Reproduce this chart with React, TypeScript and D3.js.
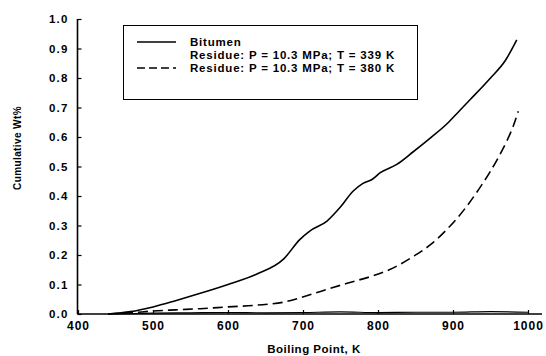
import React, { useEffect, useRef } from 'react';
import * as d3 from 'd3';

// Bitumen (solid)
const bitumenK = [440, 470, 500, 530, 563, 600, 638, 674, 696, 709, 732, 749, 767, 780, 792, 803, 825, 847, 870, 892, 909, 923, 950, 970, 985];
const bitumenWt = [0, 0.008, 0.024, 0.045, 0.07, 0.1, 0.135, 0.186, 0.253, 0.281, 0.315, 0.36, 0.417, 0.443, 0.456, 0.479, 0.507, 0.55, 0.597, 0.645, 0.69, 0.727, 0.8, 0.86, 0.929];

// Residue, T = 339 K (solid, near zero)
const res339K = [450, 500, 550, 600, 650, 700, 750, 800, 850, 900, 950, 1000];
const res339Wt = [0, 0.003, 0.004, 0.005, 0.004, 0.005, 0.007, 0.005, 0.006, 0.006, 0.008, 0.006];

// Residue, T = 380 K (dashed)
const res380K = [440, 470, 500, 530, 563, 600, 638, 674, 705, 740, 770, 794, 815, 847, 870, 892, 918, 935, 949, 962, 972, 980, 987];
const res380Wt = [0, 0.004, 0.01, 0.014, 0.018, 0.024, 0.03, 0.04, 0.062, 0.09, 0.112, 0.13, 0.15, 0.195, 0.235, 0.287, 0.364, 0.425, 0.48, 0.538, 0.588, 0.635, 0.687];

const xTicks = [400, 500, 600, 700, 800, 900, 1000];
const yTicks = [0, 0.1, 0.2, 0.3, 0.4, 0.5, 0.6, 0.7, 0.8, 0.9, 1.0];
const legendLabels = [
  'Bitumen',
  'Residue: P = 10.3 MPa; T = 339 K',
  'Residue: P = 10.3 MPa; T = 380 K',
];

const FONT = '"Liberation Sans", Arial, sans-serif';

const App = () => {
  const svgRef = useRef<SVGSVGElement>(null);

  useEffect(() => {
    const svg = d3.select(svgRef.current);
    svg.selectAll('*').remove();

    const x = d3.scaleLinear().domain([400, 1000]).range([78, 528]);
    const y = d3.scaleLinear().domain([0, 1]).range([314, 19]);

    // axes
    const xAxis = svg.append('g')
      .attr('transform', `translate(0, ${y(0)})`)
      .call(d3.axisBottom(x).tickValues(xTicks).tickSizeInner(-4).tickSizeOuter(0).tickPadding(7).tickFormat(d3.format('d')));
    xAxis.select('.domain').remove();
    xAxis.selectAll('line').attr('stroke', '#000').attr('stroke-width', 1.2);
    xAxis.selectAll('text')
      .attr('font-family', FONT).attr('font-size', 12).attr('font-weight', 'bold')
      .attr('letter-spacing', 1).attr('fill', '#000');

    const yAxis = svg.append('g')
      .attr('transform', `translate(${x(400) - 0.5}, 0)`)
      .call(d3.axisLeft(y).tickValues(yTicks).tickSizeInner(-4).tickSizeOuter(0).tickPadding(9).tickFormat(d3.format('.1f')));
    yAxis.select('.domain').remove();
    yAxis.selectAll('line').attr('stroke', '#000').attr('stroke-width', 1.2);
    yAxis.selectAll('text')
      .attr('font-family', FONT).attr('font-size', 11.5).attr('font-weight', 'bold')
      .attr('letter-spacing', 1.2).attr('fill', '#000');

    svg.append('line')
      .attr('x1', x(400) - 0.5).attr('x2', x(400) - 0.5)
      .attr('y1', y(1)).attr('y2', y(0))
      .attr('stroke', '#000').attr('stroke-width', 1.6);
    svg.append('line')
      .attr('x1', x(400) - 0.5).attr('x2', 542)
      .attr('y1', y(0)).attr('y2', y(0))
      .attr('stroke', '#000').attr('stroke-width', 1.6);

    // axis titles
    svg.append('text')
      .attr('x', 314).attr('y', 353)
      .attr('text-anchor', 'middle')
      .attr('font-family', FONT).attr('font-size', 11.5).attr('font-weight', 'bold')
      .attr('letter-spacing', 0.5)
      .text('Boiling Point, K');
    svg.append('text')
      .attr('transform', 'translate(21, 148) rotate(-90)')
      .attr('text-anchor', 'middle')
      .attr('font-family', FONT).attr('font-size', 10).attr('font-weight', 'bold')
      .attr('letter-spacing', 0.4)
      .text('Cumulative Wt%');

    // curves
    const line = d3.line<[number, number]>()
      .x((d) => x(d[0]))
      .y((d) => y(d[1]))
      .curve(d3.curveMonotoneX);

    const series = [
      { k: bitumenK, v: bitumenWt, dash: null, w: 1.6 },
      { k: res339K, v: res339Wt, dash: null, w: 1.2 },
      { k: res380K, v: res380Wt, dash: '10,5', w: 1.6 },
    ];
    series.forEach((s) => {
      svg.append('path')
        .datum(s.k.map((k, i) => [k, s.v[i]] as [number, number]))
        .attr('fill', 'none')
        .attr('stroke', '#000')
        .attr('stroke-width', s.w)
        .attr('stroke-dasharray', s.dash)
        .attr('d', line);
    });

    // legend
    const lg = svg.append('g');
    lg.append('rect')
      .attr('x', 123.5).attr('y', 25.5).attr('width', 294).attr('height', 74)
      .attr('fill', 'none').attr('stroke', '#000').attr('stroke-width', 1);
    const rows = [42, 55, 68];
    legendLabels.forEach((label, i) => {
      if (i !== 1) {
        lg.append('line')
          .attr('x1', 137).attr('x2', 176)
          .attr('y1', rows[i]).attr('y2', rows[i])
          .attr('stroke', '#000').attr('stroke-width', 1.3)
          .attr('stroke-dasharray', i === 2 ? '8,4' : null);
      }
      lg.append('text')
        .attr('x', 190).attr('y', rows[i] + 4)
        .attr('font-family', FONT).attr('font-size', 11.5).attr('font-weight', 'bold')
        .attr('letter-spacing', 0.8)
        .text(label);
    });
  }, []);

  return (
    <svg
      ref={svgRef}
      width={546}
      height={356}
      style={{ position: 'absolute', left: 0, top: 0, background: '#fff' }}
    />
  );
};

export default App;
